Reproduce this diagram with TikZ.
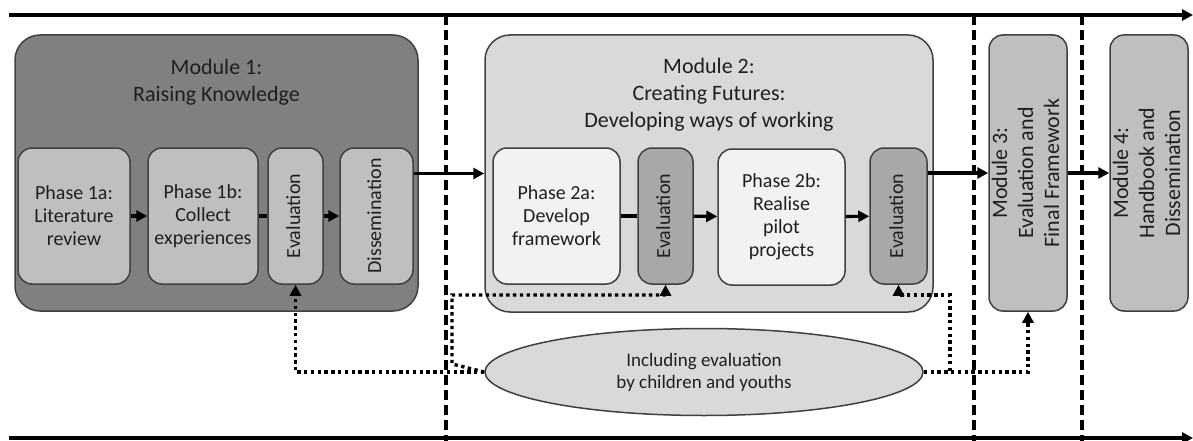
\documentclass[tikz,border=0pt]{standalone}
\usepackage{fontspec}
\setmainfont{Carlito}
\usepackage{tikz}
\usetikzlibrary{arrows.meta,shapes.geometric}

\definecolor{modone}{gray}{0.50}
\definecolor{modtwo}{gray}{0.85}
\definecolor{phasegray}{gray}{0.75}
\definecolor{phasewhite}{gray}{0.95}
\definecolor{evaldark}{gray}{0.66}
\definecolor{edgegray}{gray}{0.25}
\definecolor{inkgray}{gray}{0.12}

\newcommand{\vtext}[1]{\rotatebox{90}{\begin{tabular}{@{}c@{}}#1\end{tabular}}}

\begin{document}
\begin{tikzpicture}[x=1pt,y=-1pt,>={Triangle[length=11pt,width=11pt]},text=inkgray]
  \tikzstyle{module}=[draw=edgegray,line width=1.5pt,rounded corners=25pt,inner sep=0pt,align=center,font=\fontsize{22}{26}\selectfont]
  \tikzstyle{phase}=[draw=edgegray,line width=1.5pt,rounded corners=14pt,inner sep=0pt,align=center,minimum height=136pt,font=\fontsize{20}{23}\selectfont]
  \tikzstyle{title}=[align=center,font=\fontsize{22}{27}\selectfont]
  \tikzstyle{flow}=[line width=3.2pt]
  \tikzstyle{border}=[line width=3.2pt,dash pattern=on 10pt off 5pt]
  \tikzstyle{feedback}=[line width=3.4pt,dash pattern=on 3.4pt off 3.4pt]

  \useasboundingbox (0,0) rectangle (1193,441);

  % time line
  \coordinate (tl) at (9,15);
  \coordinate (tr) at (1193,15);
  \coordinate (bl) at (9,438);
  \coordinate (br) at (1193,438);
  \coordinate (s1t) at (446,15);
  \coordinate (s1b) at (446,441);
  \coordinate (s2t) at (974,15);
  \coordinate (s2b) at (974,441);
  \coordinate (s3t) at (1082,15);
  \coordinate (s3b) at (1082,441);

  % module 1
  \node[module,fill=modone,minimum width=403pt,minimum height=276pt] (m1) at (216.5,173) {};
  \node[title] (m1title) at (216.5,82) {Module 1:\\Raising Knowledge};
  \node[phase,fill=phasegray,minimum width=112pt] (p1a) at (74,216) {Phase 1a:\\Literature\\review};
  \node[phase,fill=phasegray,minimum width=110pt] (p1b) at (203,216) {Phase 1b:\\Collect\\experiences};
  \node[phase,fill=phasegray,minimum width=55pt] (ev1) at (295.5,216) {\vtext{Evaluation}};
  \node[phase,fill=phasegray,minimum width=73pt] (dis) at (376.5,216) {\vtext{Dissemination}};

  % module 2
  \node[module,fill=modtwo,minimum width=448pt,minimum height=277pt] (m2) at (709,173.5) {};
  \node[title] (m2title) at (709,95) {Module 2:\\Creating Futures:\\Developing ways of working};
  \node[phase,fill=phasewhite,minimum width=127pt] (p2a) at (556.5,216) {Phase 2a:\\Develop\\framework};
  \node[phase,fill=evaldark,minimum width=55pt] (ev2a) at (665.5,216) {\vtext{Evaluation}};
  \node[phase,fill=phasewhite,minimum width=127pt] (p2b) at (781.5,217) {Phase 2b:\\Realise\\pilot\\projects};
  \node[phase,fill=evaldark,minimum width=57pt] (ev2b) at (898.5,216) {\vtext{Evaluation}};

  % modules 3 and 4
  \node[module,rounded corners=14pt,fill=phasegray,minimum width=76pt,minimum height=276pt] (m3) at (1028,173) {\vtext{Module 3:\\Evaluation and\\Final Framework}};
  \node[module,rounded corners=14pt,fill=phasegray,minimum width=76pt,minimum height=276pt] (m4) at (1149,173) {\vtext{Module 4:\\Handbook and\\Dissemination}};

  % children and youths
  \node[ellipse,draw=edgegray,line width=1.5pt,fill=modtwo,minimum width=438pt,minimum height=87pt,align=center,font=\fontsize{19}{22}\selectfont] (ell) at (704,372) {Including evaluation\\by children and youths};

  \coordinate (k1) at (452,364);
  \coordinate (k2) at (452,295);
  \coordinate (k3) at (950,372);
  \coordinate (k4) at (950,295);

  % borders
  \draw[flow,->] (tl) -- (tr);
  \draw[flow,->] (bl) -- (br);
  \draw[border] (s1t) -- (s1b);
  \draw[border] (s2t) -- (s2b);
  \draw[border] (s3t) -- (s3b);

  % flow
  \draw[flow,->] (p1a) -- (p1b);
  \draw[flow] (p1b) -- (ev1);
  \draw[flow,->] (ev1) -- (dis);
  \draw[flow,->] (dis.east |- m2.west) -- (m2.west);
  \draw[flow] (p2a) -- (ev2a);
  \draw[flow,->] (ev2a) -- (p2b);
  \draw[flow,->] (p2b) -- (ev2b);
  \draw[flow,->] (ev2b.east |- m3.west) -- (m3.west);
  \draw[flow,->] (m3) -- (m4);

  % feedback
  \draw[feedback,->] (ell.west) -| (ev1.south);
  \draw[feedback,->] (ell.west) -- (k1) -- (k2) -| (ev2a.south);
  \draw[feedback,->] (ell.east) -- (k3) -- (k4) -| (ev2b.south);
  \draw[feedback,->] (ell.east) -| (m3.south);
\end{tikzpicture}
\end{document}
